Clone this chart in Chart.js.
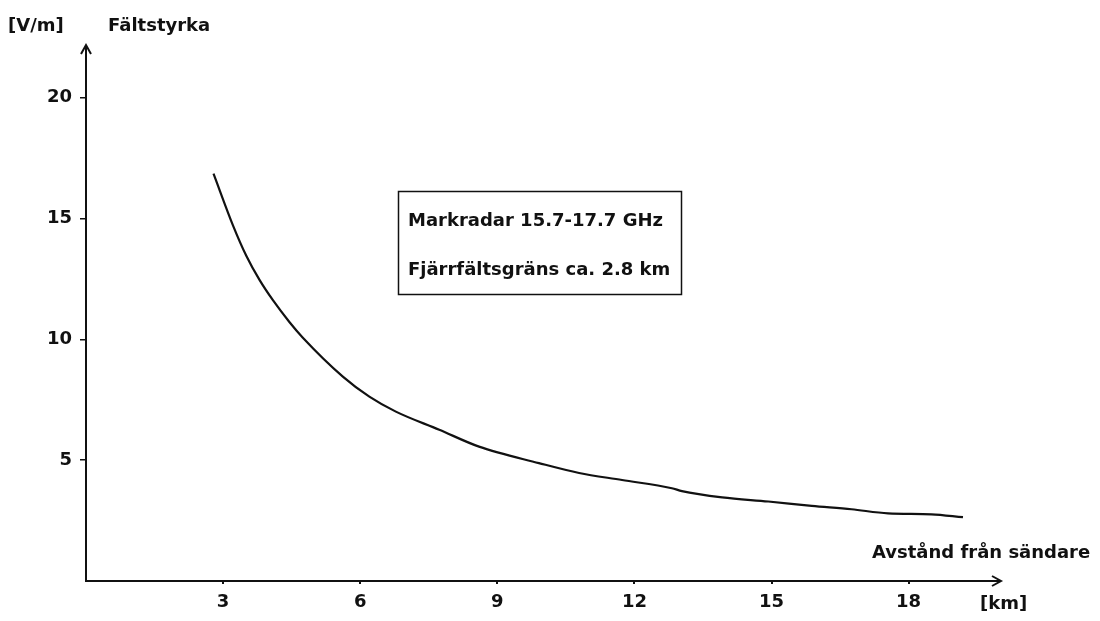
<!DOCTYPE html>
<html>
<head>
<meta charset="utf-8">
<script src="https://cdn.jsdelivr.net/npm/chart.js@4.4.1/dist/chart.umd.min.js"></script>
<style>
  html, body { margin: 0; padding: 0; background: #ffffff; }
  #wrap { position: relative; width: 1100px; height: 621px; }
  canvas { display: block; }
</style>
</head>
<body>
<div id="wrap"><canvas id="c" width="1100" height="621"></canvas></div>
<script>
// ---- data ----
const distanceKm = [2.79, 3.22, 3.51, 3.80, 4.09, 4.45, 4.74, 5.62, 6.20, 6.78, 7.73, 8.60, 9.91, 10.79, 11.73, 12.82, 13.04, 13.92, 14.93, 15.88, 16.75, 17.55, 18.50, 19.19];
const fieldStrength = [16.86, 14.70, 13.45, 12.45, 11.62, 10.72, 10.08, 8.46, 7.63, 7.01, 6.26, 5.56, 4.88, 4.47, 4.18, 3.84, 3.72, 3.46, 3.29, 3.11, 2.97, 2.80, 2.76, 2.64];
const xTicks = [3, 6, 9, 12, 15, 18];
const yTicks = [5, 10, 15, 20];
const xRange = [0, 20];
const yRange = [0, 22.1];
const yUnit = '[V/m]';
const yTitle = 'Fältstyrka';
const xTitle = 'Avstånd från sändare';
const xUnit = '[km]';
const boxLines = ['Markradar 15.7-17.7 GHz', 'Fjärrfältsgräns ca. 2.8 km'];

const FONT = 'bold 18px "DejaVu Sans"';
const INK = '#111111';

const points = distanceKm.map((x, i) => ({ x: x, y: fieldStrength[i] }));

const decorPlugin = {
  id: 'decor',
  afterDraw(chart) {
    const ctx = chart.ctx;
    const a = chart.chartArea;
    ctx.save();
    ctx.strokeStyle = INK;
    ctx.lineWidth = 2;
    // arrow on y axis
    ctx.beginPath();
    ctx.moveTo(a.left - 5, a.top + 7);
    ctx.lineTo(a.left, a.top - 2);
    ctx.lineTo(a.left + 5, a.top + 7);
    ctx.stroke();
    ctx.beginPath();
    ctx.moveTo(a.left, a.top + 2);
    ctx.lineTo(a.left, a.top - 2);
    ctx.stroke();
    // arrow on x axis
    ctx.beginPath();
    ctx.moveTo(a.right - 8, a.bottom - 5);
    ctx.lineTo(a.right + 1, a.bottom);
    ctx.lineTo(a.right - 8, a.bottom + 5);
    ctx.stroke();

    ctx.fillStyle = INK;
    ctx.font = FONT;
    ctx.textBaseline = 'middle';
    ctx.textAlign = 'left';
    ctx.fillText(yUnit, 8, 26);
    ctx.fillText(yTitle, 108, 26);
    ctx.fillText(xTitle, 872, 553);
    ctx.fillText(xUnit, 980, 604);

    // text box
    ctx.lineWidth = 1.5;
    ctx.strokeRect(398.5, 191.5, 283, 103);
    ctx.fillText(boxLines[0], 408, 221);
    ctx.fillText(boxLines[1], 408, 270);
    ctx.restore();
  }
};

new Chart(document.getElementById('c'), {
  type: 'line',
  data: {
    datasets: [{
      data: points,
      borderColor: INK,
      borderWidth: 2.2,
      pointRadius: 0,
      fill: false,
      cubicInterpolationMode: 'monotone'
    }]
  },
  options: {
    responsive: false,
    animation: false,
    devicePixelRatio: 1,
    layout: { padding: { left: 0, right: 100, top: 47, bottom: 0 } },
    plugins: { legend: { display: false }, tooltip: { enabled: false } },
    scales: {
      x: {
        type: 'linear',
        min: xRange[0],
        max: xRange[1],
        afterFit(s) { s.height = 40; },
        afterBuildTicks(s) { s.ticks = xTicks.map(v => ({ value: v })); },
        border: { display: true, color: INK, width: 2 },
        grid: { display: true, drawOnChartArea: false, drawTicks: true, tickLength: 3, color: INK, lineWidth: 2 },
        ticks: { color: INK, font: { family: 'DejaVu Sans', size: 18, weight: 'bold' }, padding: 8, maxRotation: 0 }
      },
      y: {
        type: 'linear',
        min: yRange[0],
        max: yRange[1],
        afterFit(s) { s.width = 86; },
        afterBuildTicks(s) { s.ticks = yTicks.map(v => ({ value: v })); },
        border: { display: true, color: INK, width: 2 },
        grid: { display: true, drawOnChartArea: false, drawTicks: true, tickLength: 6, color: INK, lineWidth: 1.5 },
        ticks: { color: INK, font: { family: 'DejaVu Sans', size: 18, weight: 'bold' }, padding: 8 }
      }
    }
  },
  plugins: [decorPlugin]
});
</script>
</body>
</html>
